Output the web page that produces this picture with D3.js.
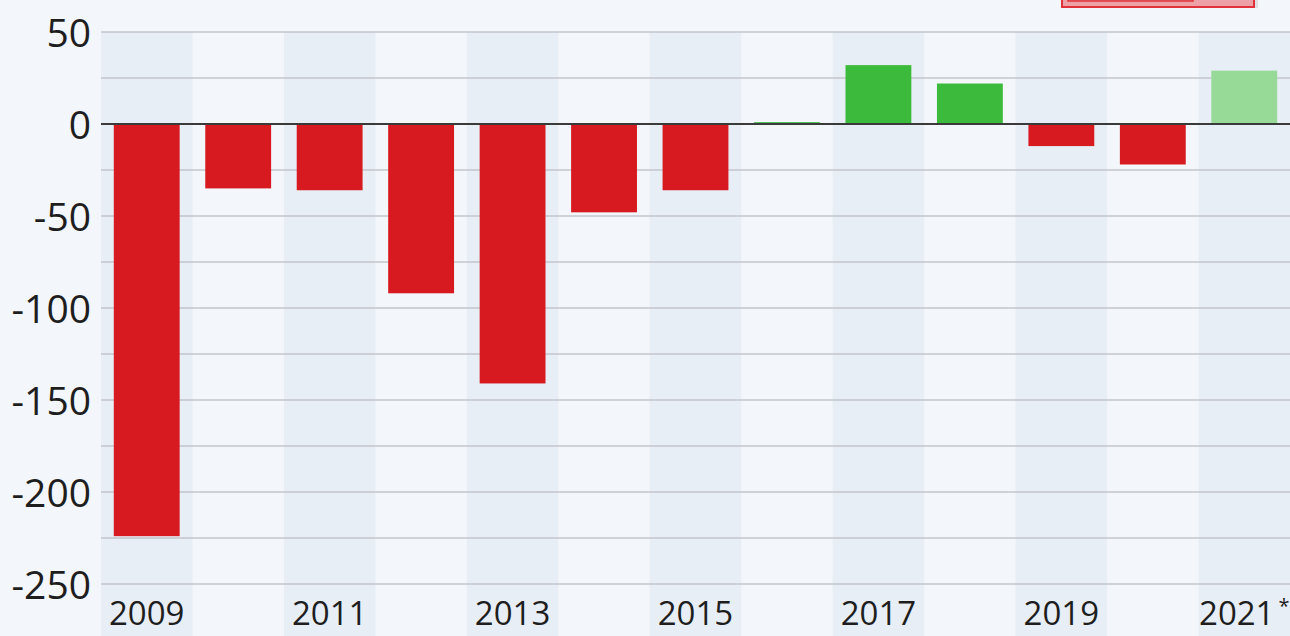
<!DOCTYPE html>
<html lang="en">
<head>
  <meta charset="UTF-8">
  <title>Balance by year</title>
  <script src="https://d3js.org/d3.v7.min.js"></script>
  <style>
    html, body { margin: 0; padding: 0; background: #f3f6fa; overflow: hidden; }
    text { font-family: "Open Sans", "Noto Sans", sans-serif; fill: #1e1e1e; }
  </style>
</head>
<body>
<script>
  const years = ["2009", "2010", "2011", "2012", "2013", "2014", "2015", "2016", "2017", "2018", "2019", "2020", "2021"];
  const values = [-224, -35, -36, -92, -141, -48, -36, 1, 32, 22, -12, -22, 29];
  const estimated = ["2021"];
  const yTicks = [50, 0, -50, -100, -150, -200, -250];
  const gridValues = d3.range(-250, 51, 25);

  const W = 1290, H = 636;
  const margin = { top: 32, right: 0, bottom: 52, left: 101 };

  const svg = d3.select("body").append("svg")
    .attr("width", W)
    .attr("height", H);

  const x = d3.scaleBand()
    .domain(years)
    .range([margin.left, W - margin.right])
    .paddingInner(0.28)
    .paddingOuter(0.14);

  const band = d3.scaleBand()
    .domain(years)
    .range([margin.left, W - margin.right]);

  const y = d3.scaleLinear()
    .domain([-250, 50])
    .range([584, 32]);

  // alternating column stripes
  svg.append("g").selectAll("rect")
    .data(years.filter((d, i) => i % 2 === 0))
    .join("rect")
    .attr("x", d => band(d))
    .attr("y", y(50))
    .attr("width", band.bandwidth())
    .attr("height", H - y(50))
    .attr("fill", "#e8eef6");

  // grid
  svg.append("g").selectAll("line")
    .data(gridValues.filter(d => d !== 0))
    .join("line")
    .attr("x1", margin.left)
    .attr("x2", W)
    .attr("y1", d => y(d))
    .attr("y2", d => y(d))
    .attr("stroke", "#c3c6cb")
    .attr("stroke-width", 1.6);

  // bars
  svg.append("g").selectAll("rect")
    .data(years.map((d, i) => ({ year: d, value: values[i] })))
    .join("rect")
    .attr("x", d => x(d.year))
    .attr("width", x.bandwidth())
    .attr("y", d => y(Math.max(0, d.value)))
    .attr("height", d => Math.abs(y(d.value) - y(0)))
    .attr("fill", d => d.value < 0 ? "#d71920" : (estimated.includes(d.year) ? "#97da97" : "#3bba3b"));

  // zero line
  svg.append("line")
    .attr("x1", margin.left)
    .attr("x2", W)
    .attr("y1", y(0))
    .attr("y2", y(0))
    .attr("stroke", "#3a3a3a")
    .attr("stroke-width", 2.2);

  // y axis labels
  const yAxis = svg.append("g")
    .attr("transform", "translate(" + (margin.left - 10) + ",0)")
    .call(d3.axisLeft(y).tickValues(yTicks).tickSize(0).tickPadding(0)
      .tickFormat(d => String(d)));
  yAxis.select(".domain").remove();
  yAxis.selectAll("text")
    .style("font-size", "39px")
    .attr("dy", "0.36em");

  // x axis labels (every other year)
  const xAxis = svg.append("g")
    .attr("transform", "translate(0," + (H - 11) + ")");
  xAxis.selectAll("text")
    .data(years.filter((d, i) => i % 2 === 0))
    .join("text")
    .attr("x", d => band(d) + band.bandwidth() / 2)
    .attr("text-anchor", "middle")
    .style("font-size", "33px")
    .each(function(d) {
      const t = d3.select(this);
      t.append("tspan").text(d);
      if (estimated.includes(d)) {
        t.append("tspan")
          .attr("dx", 4)
          .attr("dy", -12)
          .style("font-size", "20px")
          .text("*");
      }
    });

  // cut-off legend box at the top
  const leg = svg.append("g");
  leg.append("rect")
    .attr("x", 1066)
    .attr("y", -12)
    .attr("width", 192)
    .attr("height", 20)
    .attr("fill", "#c8c8cc")
    .attr("opacity", 0.5);
  leg.append("rect")
    .attr("x", 1062)
    .attr("y", -14)
    .attr("width", 192)
    .attr("height", 21)
    .attr("fill", "#eda1a6")
    .attr("stroke", "#e0323a")
    .attr("stroke-width", 2);
  leg.append("rect")
    .attr("x", 1068)
    .attr("y", -14)
    .attr("width", 125)
    .attr("height", 15)
    .attr("fill", "#e58a90")
    .attr("stroke", "#e0323a")
    .attr("stroke-width", 1.5);
</script>
</body>
</html>
